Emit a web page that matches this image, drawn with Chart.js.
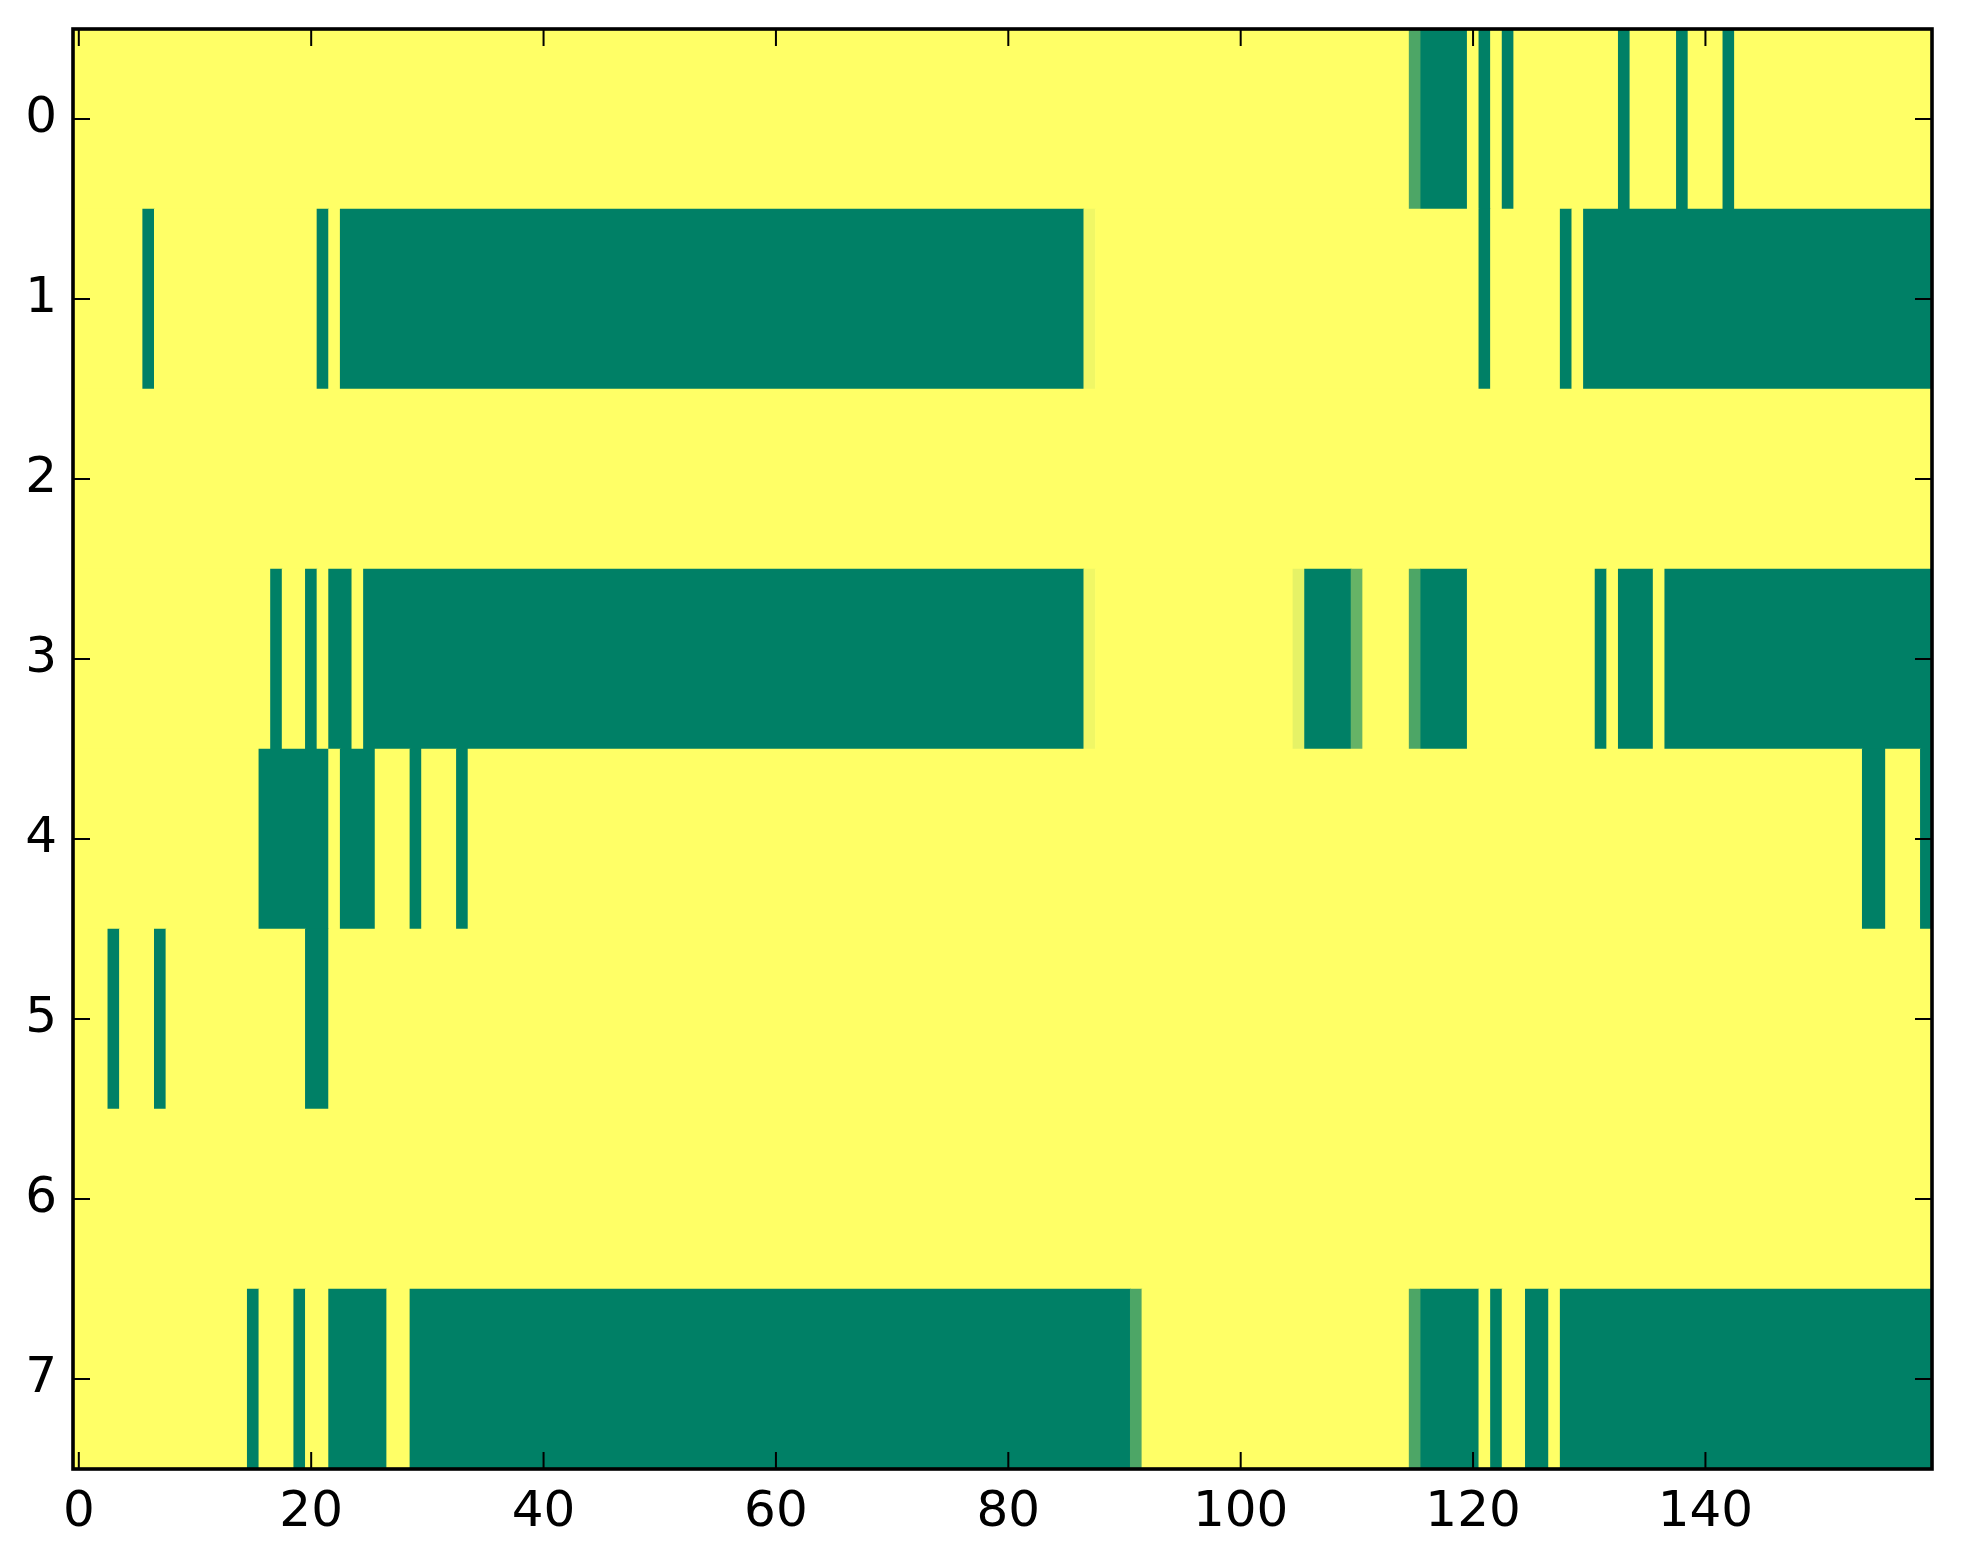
<!DOCTYPE html>
<html>
<head>
<meta charset="utf-8">
<script src="https://cdn.jsdelivr.net/npm/chart.js@4.4.0/dist/chart.umd.min.js"></script>
<style>
  body { margin: 0; background: #fff; }
</style>
</head>
<body>
<canvas id="myChart" width="1963" height="1564"></canvas>
<script>
// one row of the image per array, 160 columns each (1 = yellow, 0 = green)
var rowLabels = ["0", "1", "2", "3", "4", "5", "6", "7"];
var xTicks = [0, 20, 40, 60, 80, 100, 120, 140];

var row0 = [
  1, 1, 1, 1, 1, 1, 1, 1, 1, 1, 1, 1, 1, 1, 1, 1, 1, 1, 1, 1,
  1, 1, 1, 1, 1, 1, 1, 1, 1, 1, 1, 1, 1, 1, 1, 1, 1, 1, 1, 1,
  1, 1, 1, 1, 1, 1, 1, 1, 1, 1, 1, 1, 1, 1, 1, 1, 1, 1, 1, 1,
  1, 1, 1, 1, 1, 1, 1, 1, 1, 1, 1, 1, 1, 1, 1, 1, 1, 1, 1, 1,
  1, 1, 1, 1, 1, 1, 1, 1, 1, 1, 1, 1, 1, 1, 1, 1, 1, 1, 1, 1,
  1, 1, 1, 1, 1, 1, 1, 1, 1, 1, 1, 1, 1, 1, 1, 0.3, 0, 0, 0, 0,
  1, 0, 1, 0, 1, 1, 1, 1, 1, 1, 1, 1, 1, 0, 1, 1, 1, 1, 0, 1,
  1, 1, 0, 1, 1, 1, 1, 1, 1, 1, 1, 1, 1, 1, 1, 1, 1, 1, 1, 1
];
var row1 = [
  1, 1, 1, 1, 1, 1, 0, 1, 1, 1, 1, 1, 1, 1, 1, 1, 1, 1, 1, 1,
  1, 0, 1, 0, 0, 0, 0, 0, 0, 0, 0, 0, 0, 0, 0, 0, 0, 0, 0, 0,
  0, 0, 0, 0, 0, 0, 0, 0, 0, 0, 0, 0, 0, 0, 0, 0, 0, 0, 0, 0,
  0, 0, 0, 0, 0, 0, 0, 0, 0, 0, 0, 0, 0, 0, 0, 0, 0, 0, 0, 0,
  0, 0, 0, 0, 0, 0, 0, 0.94, 1, 1, 1, 1, 1, 1, 1, 1, 1, 1, 1, 1,
  1, 1, 1, 1, 1, 1, 1, 1, 1, 1, 1, 1, 1, 1, 1, 1, 1, 1, 1, 1,
  1, 0, 1, 1, 1, 1, 1, 1, 0, 1, 0, 0, 0, 0, 0, 0, 0, 0, 0, 0,
  0, 0, 0, 0, 0, 0, 0, 0, 0, 0, 0, 0, 0, 0, 0, 0, 0, 0, 0, 0
];
var row2 = [
  1, 1, 1, 1, 1, 1, 1, 1, 1, 1, 1, 1, 1, 1, 1, 1, 1, 1, 1, 1,
  1, 1, 1, 1, 1, 1, 1, 1, 1, 1, 1, 1, 1, 1, 1, 1, 1, 1, 1, 1,
  1, 1, 1, 1, 1, 1, 1, 1, 1, 1, 1, 1, 1, 1, 1, 1, 1, 1, 1, 1,
  1, 1, 1, 1, 1, 1, 1, 1, 1, 1, 1, 1, 1, 1, 1, 1, 1, 1, 1, 1,
  1, 1, 1, 1, 1, 1, 1, 1, 1, 1, 1, 1, 1, 1, 1, 1, 1, 1, 1, 1,
  1, 1, 1, 1, 1, 1, 1, 1, 1, 1, 1, 1, 1, 1, 1, 1, 1, 1, 1, 1,
  1, 1, 1, 1, 1, 1, 1, 1, 1, 1, 1, 1, 1, 1, 1, 1, 1, 1, 1, 1,
  1, 1, 1, 1, 1, 1, 1, 1, 1, 1, 1, 1, 1, 1, 1, 1, 1, 1, 1, 1
];
var row3 = [
  1, 1, 1, 1, 1, 1, 1, 1, 1, 1, 1, 1, 1, 1, 1, 1, 1, 0, 1, 1,
  0, 1, 0, 0, 1, 0, 0, 0, 0, 0, 0, 0, 0, 0, 0, 0, 0, 0, 0, 0,
  0, 0, 0, 0, 0, 0, 0, 0, 0, 0, 0, 0, 0, 0, 0, 0, 0, 0, 0, 0,
  0, 0, 0, 0, 0, 0, 0, 0, 0, 0, 0, 0, 0, 0, 0, 0, 0, 0, 0, 0,
  0, 0, 0, 0, 0, 0, 0, 0.94, 1, 1, 1, 1, 1, 1, 1, 1, 1, 1, 1, 1,
  1, 1, 1, 1, 1, 0.9, 0, 0, 0, 0, 0.4, 1, 1, 1, 1, 0.3, 0, 0, 0, 0,
  1, 1, 1, 1, 1, 1, 1, 1, 1, 1, 1, 0, 1, 0, 0, 0, 1, 0, 0, 0,
  0, 0, 0, 0, 0, 0, 0, 0, 0, 0, 0, 0, 0, 0, 0, 0, 0, 0, 0, 0
];
var row4 = [
  1, 1, 1, 1, 1, 1, 1, 1, 1, 1, 1, 1, 1, 1, 1, 1, 0, 0, 0, 0,
  0, 0, 1, 0, 0, 0, 1, 1, 1, 0, 1, 1, 1, 0, 1, 1, 1, 1, 1, 1,
  1, 1, 1, 1, 1, 1, 1, 1, 1, 1, 1, 1, 1, 1, 1, 1, 1, 1, 1, 1,
  1, 1, 1, 1, 1, 1, 1, 1, 1, 1, 1, 1, 1, 1, 1, 1, 1, 1, 1, 1,
  1, 1, 1, 1, 1, 1, 1, 1, 1, 1, 1, 1, 1, 1, 1, 1, 1, 1, 1, 1,
  1, 1, 1, 1, 1, 1, 1, 1, 1, 1, 1, 1, 1, 1, 1, 1, 1, 1, 1, 1,
  1, 1, 1, 1, 1, 1, 1, 1, 1, 1, 1, 1, 1, 1, 1, 1, 1, 1, 1, 1,
  1, 1, 1, 1, 1, 1, 1, 1, 1, 1, 1, 1, 1, 1, 0, 0, 1, 1, 1, 0
];
var row5 = [
  1, 1, 1, 0, 1, 1, 1, 0, 1, 1, 1, 1, 1, 1, 1, 1, 1, 1, 1, 1,
  0, 0, 1, 1, 1, 1, 1, 1, 1, 1, 1, 1, 1, 1, 1, 1, 1, 1, 1, 1,
  1, 1, 1, 1, 1, 1, 1, 1, 1, 1, 1, 1, 1, 1, 1, 1, 1, 1, 1, 1,
  1, 1, 1, 1, 1, 1, 1, 1, 1, 1, 1, 1, 1, 1, 1, 1, 1, 1, 1, 1,
  1, 1, 1, 1, 1, 1, 1, 1, 1, 1, 1, 1, 1, 1, 1, 1, 1, 1, 1, 1,
  1, 1, 1, 1, 1, 1, 1, 1, 1, 1, 1, 1, 1, 1, 1, 1, 1, 1, 1, 1,
  1, 1, 1, 1, 1, 1, 1, 1, 1, 1, 1, 1, 1, 1, 1, 1, 1, 1, 1, 1,
  1, 1, 1, 1, 1, 1, 1, 1, 1, 1, 1, 1, 1, 1, 1, 1, 1, 1, 1, 1
];
var row6 = [
  1, 1, 1, 1, 1, 1, 1, 1, 1, 1, 1, 1, 1, 1, 1, 1, 1, 1, 1, 1,
  1, 1, 1, 1, 1, 1, 1, 1, 1, 1, 1, 1, 1, 1, 1, 1, 1, 1, 1, 1,
  1, 1, 1, 1, 1, 1, 1, 1, 1, 1, 1, 1, 1, 1, 1, 1, 1, 1, 1, 1,
  1, 1, 1, 1, 1, 1, 1, 1, 1, 1, 1, 1, 1, 1, 1, 1, 1, 1, 1, 1,
  1, 1, 1, 1, 1, 1, 1, 1, 1, 1, 1, 1, 1, 1, 1, 1, 1, 1, 1, 1,
  1, 1, 1, 1, 1, 1, 1, 1, 1, 1, 1, 1, 1, 1, 1, 1, 1, 1, 1, 1,
  1, 1, 1, 1, 1, 1, 1, 1, 1, 1, 1, 1, 1, 1, 1, 1, 1, 1, 1, 1,
  1, 1, 1, 1, 1, 1, 1, 1, 1, 1, 1, 1, 1, 1, 1, 1, 1, 1, 1, 1
];
var row7 = [
  1, 1, 1, 1, 1, 1, 1, 1, 1, 1, 1, 1, 1, 1, 1, 0, 1, 1, 1, 0,
  1, 1, 0, 0, 0, 0, 0, 1, 1, 0, 0, 0, 0, 0, 0, 0, 0, 0, 0, 0,
  0, 0, 0, 0, 0, 0, 0, 0, 0, 0, 0, 0, 0, 0, 0, 0, 0, 0, 0, 0,
  0, 0, 0, 0, 0, 0, 0, 0, 0, 0, 0, 0, 0, 0, 0, 0, 0, 0, 0, 0,
  0, 0, 0, 0, 0, 0, 0, 0, 0, 0, 0, 0.3, 1, 1, 1, 1, 1, 1, 1, 1,
  1, 1, 1, 1, 1, 1, 1, 1, 1, 1, 1, 1, 1, 1, 1, 0.3, 0, 0, 0, 0,
  0, 1, 0, 1, 1, 0, 0, 1, 0, 0, 0, 0, 0, 0, 0, 0, 0, 0, 0, 0,
  0, 0, 0, 0, 0, 0, 0, 0, 0, 0, 0, 0, 0, 0, 0, 0, 0, 0, 0, 0
];
var rows = [row0, row1, row2, row3, row4, row5, row6, row7];

// matplotlib "summer" colormap
function summer(v) {
  return "rgb(" + Math.round(255 * v) + "," + Math.round(255 * (0.5 + 0.5 * v)) + ",102)";
}

// join equal neighbours into one floating bar so no seams show
var cells = [];
var colors = [];
for (var r = 0; r < rows.length; r++) {
  var start = 0;
  for (var c = 1; c <= rows[r].length; c++) {
    if (c === rows[r].length || rows[r][c] !== rows[r][start]) {
      cells.push({ x: [start - 0.5, c - 0.5], y: rowLabels[r] });
      colors.push(summer(rows[r][start]));
      start = c;
    }
  }
}

// black frame and inward ticks on all four sides
var frame = {
  id: "frame",
  afterDraw: function(chart) {
    var ctx = chart.ctx;
    var a = chart.chartArea;
    var xs = chart.scales.x;
    var ys = chart.scales.y;
    var len = 17;
    ctx.save();
    ctx.strokeStyle = "#000";
    ctx.lineWidth = 2;
    ctx.beginPath();
    for (var i = 0; i < xTicks.length; i++) {
      var px = xs.getPixelForValue(xTicks[i]);
      ctx.moveTo(px, a.bottom); ctx.lineTo(px, a.bottom - len);
      ctx.moveTo(px, a.top); ctx.lineTo(px, a.top + len);
    }
    for (var j = 0; j < rowLabels.length; j++) {
      var py = ys.getPixelForValue(j);
      ctx.moveTo(a.left, py); ctx.lineTo(a.left + len, py);
      ctx.moveTo(a.right, py); ctx.lineTo(a.right - len, py);
    }
    ctx.stroke();
    ctx.lineWidth = 3.6;
    ctx.strokeRect(a.left, a.top, a.right - a.left, a.bottom - a.top);
    ctx.restore();
  }
};

var ctx = document.getElementById("myChart");

var chart = new Chart(ctx, {
  type: "bar",
  data: {
    labels: rowLabels,
    datasets: [{
      data: cells,
      backgroundColor: colors,
      borderWidth: 0,
      barPercentage: 1,
      categoryPercentage: 1
    }]
  },
  options: {
    indexAxis: "y",
    responsive: false,
    animation: false,
    devicePixelRatio: 1,
    layout: { padding: { top: 29, right: 31, left: 0, bottom: 0 } },
    plugins: {
      legend: { display: false },
      tooltip: { enabled: false }
    },
    scales: {
      x: {
        type: "linear",
        min: -0.5,
        max: 159.5,
        grid: { display: false, drawTicks: false },
        border: { display: false },
        afterBuildTicks: function(scale) {
          scale.ticks = xTicks.map(function(v) { return { value: v }; });
        },
        afterFit: function(scale) {
          scale.height = 95;
          scale.paddingLeft = 0;
          scale.paddingRight = 0;
        },
        ticks: {
          padding: 14,
          maxRotation: 0,
          autoSkip: false,
          color: "#000",
          font: { family: "DejaVu Sans", size: 50 }
        }
      },
      y: {
        type: "category",
        offset: true,
        grid: { display: false, drawTicks: false },
        border: { display: false },
        afterFit: function(scale) {
          scale.width = 73;
          scale.paddingTop = 0;
          scale.paddingBottom = 0;
        },
        ticks: {
          padding: 16,
          color: "#000",
          font: { family: "DejaVu Sans", size: 50 }
        }
      }
    }
  },
  plugins: [frame]
});
</script>
</body>
</html>
